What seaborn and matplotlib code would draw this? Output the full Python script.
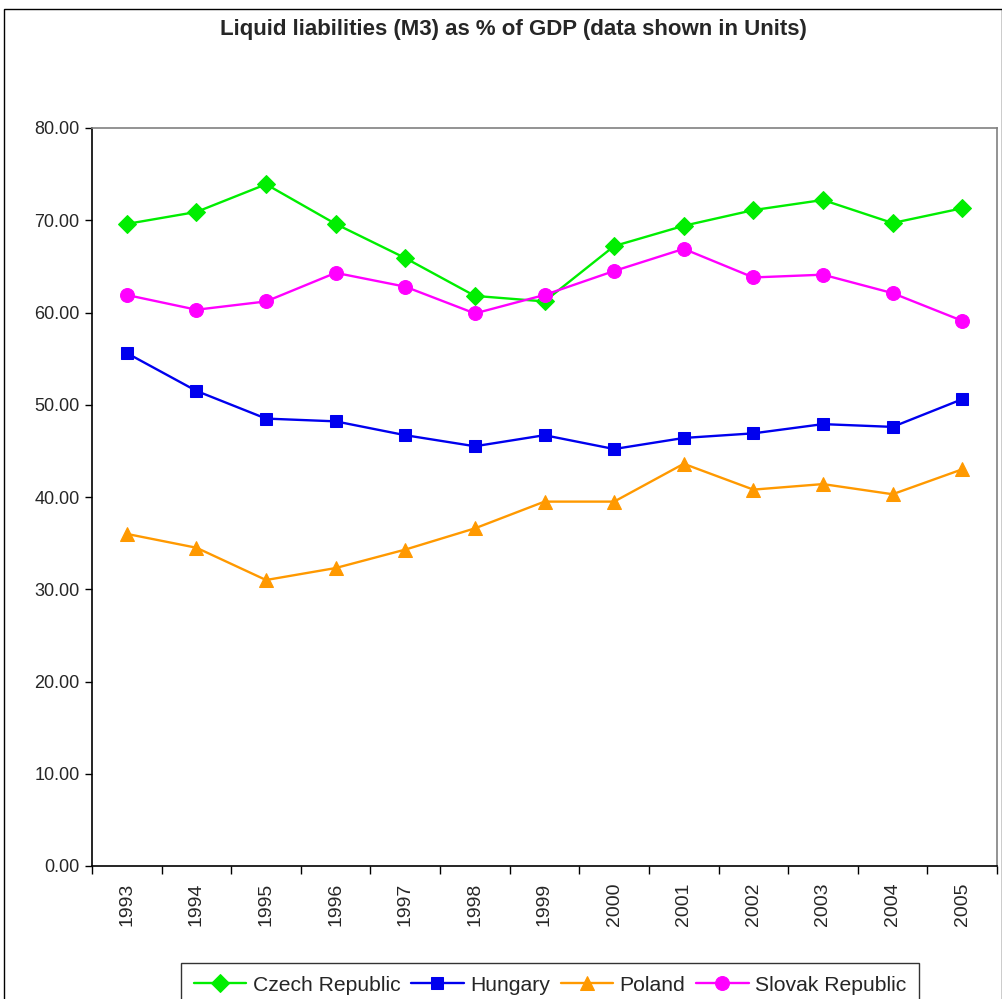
import matplotlib
matplotlib.use("Agg")
import matplotlib.pyplot as plt
import seaborn as sns
import pandas as pd
import numpy as np
from matplotlib.ticker import FixedLocator, FormatStrFormatter

years = ["1993", "1994", "1995", "1996", "1997", "1998", "1999", "2000",
         "2001", "2002", "2003", "2004", "2005"]
czech = [69.6, 70.9, 73.9, 69.6, 65.9, 61.8, 61.2, 67.2, 69.4, 71.1, 72.2, 69.7, 71.3]
hungary = [55.6, 51.5, 48.5, 48.2, 46.7, 45.5, 46.7, 45.2, 46.4, 46.9, 47.9, 47.6, 50.6]
poland = [36.0, 34.5, 31.0, 32.3, 34.3, 36.6, 39.5, 39.5, 43.6, 40.8, 41.4, 40.3, 43.0]
slovak = [61.9, 60.3, 61.2, 64.3, 62.8, 59.9, 61.9, 64.5, 66.9, 63.8, 64.1, 62.1, 59.1]

series_names = ["Czech Republic", "Hungary", "Poland", "Slovak Republic"]
series_values = [czech, hungary, poland, slovak]
colors = ["#00EE00", "#0000EE", "#FF9900", "#FF00FF"]
markers = ["D", "s", "^", "o"]
msizes = [9, 9, 10.5, 10]

sns.set_theme(style="white")
plt.rcParams['font.family'] = ['Liberation Sans', 'DejaVu Sans']

fig = plt.figure(figsize=(10.03, 9.99), dpi=100)
ax = fig.add_axes([92/1003, 1-866/999, (997-92)/1003, (866-128)/999])

rows = []
for name, vals in zip(series_names, series_values):
    for i, v in enumerate(vals):
        rows.append({"pos": i, "year": years[i], "value": v, "series": name})
df = pd.DataFrame(rows)

for name, c, m, ms in zip(series_names, colors, markers, msizes):
    sub = df[df.series == name]
    sns.lineplot(data=sub, x="pos", y="value", ax=ax, color=c, marker=m,
                 markersize=ms, markeredgecolor=c, linewidth=1.7, label=name,
                 estimator=None, sort=False)

ax.set_xlim(-0.5, len(years) - 0.5)
ax.set_ylim(0, 80)
ax.set_xlabel("")
ax.set_ylabel("")
ax.set_yticks(np.arange(0, 81, 10))
ax.yaxis.set_major_formatter(FormatStrFormatter("%.2f"))
ax.set_xticks(range(len(years)))
ax.set_xticklabels(years, rotation=90, fontsize=14)
ax.xaxis.set_minor_locator(FixedLocator(np.arange(-0.5, len(years), 1.0)))
ax.tick_params(axis='x', which='major', length=0, pad=12)
ax.tick_params(axis='x', which='minor', length=6, width=1, color='black', direction='out', bottom=True)
ax.tick_params(axis='y', which='major', length=5, width=1, color='black', direction='out', left=True, labelsize=13, pad=4)

for side in ["left", "bottom"]:
    ax.spines[side].set_color("black")
    ax.spines[side].set_linewidth(1.2)
for side in ["top", "right"]:
    ax.spines[side].set_color("#808080")
    ax.spines[side].set_linewidth(1.2)
ax.grid(False)

fig.text(513/1003, 1-30/999, "Liquid liabilities (M3) as % of GDP (data shown in Units)",
         ha="center", va="center", fontsize=16, fontweight="bold")

ax.get_legend().remove()
handles, labels = ax.get_legend_handles_labels()
leg = fig.legend(handles, labels, loc="upper center", ncol=4,
                 bbox_to_anchor=(550/1003, 1-963/999), fontsize=15.2,
                 frameon=True, fancybox=False, edgecolor="black",
                 handlelength=2.5, columnspacing=0.5, handletextpad=0.3,
                 borderpad=0.6, borderaxespad=0)
leg.get_frame().set_linewidth(1.0)

border = plt.Rectangle((4/1003, -0.01), 1 - 5/1003, 1 - 9/999 + 0.01, transform=fig.transFigure,
                       fill=False, edgecolor="black", linewidth=1.0)
fig.patches.append(border)

fig.savefig("out.png", dpi=100)
